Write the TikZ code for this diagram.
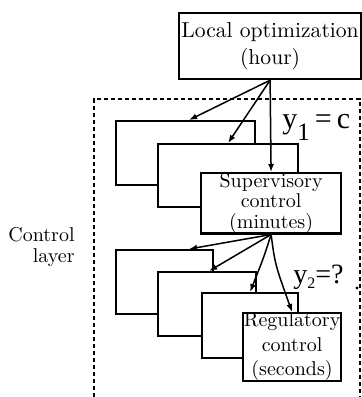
\documentclass[tikz,border=0pt]{standalone}
\usepackage{fontspec}
\newfontfamily\timesf{Liberation Serif}
\usetikzlibrary{arrows.meta}
\begin{document}
\begin{tikzpicture}[x=0.5pt,y=-0.5pt,
  box/.style={draw, line width=1.1pt, fill=white, inner sep=0pt, anchor=north west, align=center},
  arr/.style={-{Latex[length=4pt,width=3pt]}, line width=0.75pt},
  framedash/.style={line width=1pt, dash pattern=on 2.2pt off 1.3pt},
  lbl/.style={inner sep=0pt, anchor=base west}]
\useasboundingbox (0,0) rectangle (361,397);
\draw[framedash] (94,397) -- (94,99) -- (360,99) -- (360,397);
% top
\node[box, minimum width=91pt, minimum height=33pt, font=\fontsize{10.8}{13.7}\selectfont] (top) at (178,12) {Local optimization\\(hour)};
% supervisory level
\node[box, minimum width=69.5pt, minimum height=32pt] (b1) at (115,120) {};
\node[box, minimum width=70pt, minimum height=31.5pt] (b2) at (157,143) {};
\node[box, minimum width=70pt, minimum height=28pt, font=\fontsize{10}{10.3}\selectfont] (sup) at (200,172) {Supervisory\\control\\(minutes)};
% regulatory level
\node[box, minimum width=48.5pt, minimum height=32pt] (ra) at (115,249) {};
\node[box, minimum width=49pt, minimum height=32pt] (rb) at (157,271) {};
\node[box, minimum width=48pt, minimum height=32.5pt] (rc) at (201,292) {};
\node[box, minimum width=49pt, minimum height=33.5pt, font=\fontsize{10}{12.2}\selectfont] (reg) at (242,312) {Regulatory\\control\\(seconds)};
% arrows
\draw[arr] (top.south) -- ([xshift=1.75pt]b1.north);
\draw[arr] (top.south) -- (b2.north);
\draw[arr] (top.south) -- (sup.north);
\draw[arr] (sup.south) -- ([xshift=12.25pt]ra.north);
\draw[arr] (sup.south) -- ([xshift=1pt]rb.north);
\draw[arr] (sup.south) .. controls +(-7,22) .. (rc.north);
\draw[arr] (sup.south) .. controls +(4,30) .. (reg.north);
% labels
\node[lbl, font=\timesf\fontsize{15}{15}\selectfont] (y1) at (282,128) {y\raisebox{-6pt}{\fontsize{12.5}{12.5}\selectfont 1}\kern2.5pt=\kern2.5pt c};
\node[lbl, font=\timesf\fontsize{14}{14}\selectfont] (y2) at (293,283) {y\raisebox{-2.5pt}{\fontsize{8}{8}\selectfont 2}=?};
\node[inner sep=0pt, anchor=north east, align=right, font=\fontsize{10}{10.5}\selectfont] (cl) at (75,227) {Control\\layer};
\fill (357,288) circle (0.8pt);
\end{tikzpicture}
\end{document}
